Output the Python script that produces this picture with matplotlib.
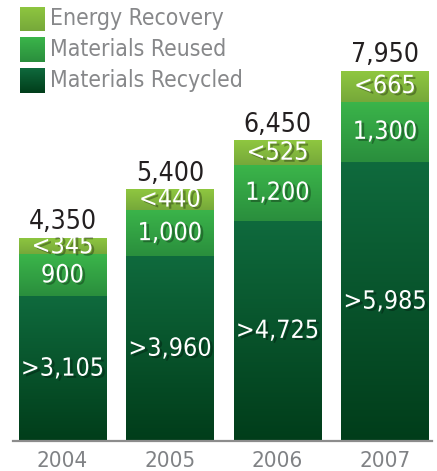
import numpy as np
import matplotlib
matplotlib.use("Agg")
from matplotlib import pyplot as plt
from matplotlib import patheffects as pe
from matplotlib.colors import LinearSegmentedColormap

years = ["2004", "2005", "2006", "2007"]
recycled = [3105, 3960, 4725, 5985]
reused = [900, 1000, 1200, 1300]
energy = [345, 440, 525, 665]
totals = [4350, 5400, 6450, 7950]
recycled_labels = [">3,105", ">3,960", ">4,725", ">5,985"]
reused_labels = ["900", "1,000", "1,200", "1,300"]
energy_labels = ["<345", "<440", "<525", "<665"]
total_labels = ["4,350", "5,400", "6,450", "7,950"]

series = [
    ("Materials Recycled", recycled, recycled_labels, ("#0f6a3d", "#013d1a")),
    ("Materials Reused", reused, reused_labels, ("#3bb54a", "#2a8e3d")),
    ("Energy Recovery", energy, energy_labels, ("#8fc740", "#76a83a")),
]

plt.rcParams['font.family'] = ['DejaVu Sans']
plt.rcParams['font.stretch'] = 'condensed'

fig = plt.figure(figsize=(4.37, 4.71), dpi=100)
ax = fig.add_axes([0, 0, 1, 1])
ax.axis("off")

grad = np.linspace(0, 1, 256).reshape(-1, 1)
shadow = [pe.SimplePatchShadow(offset=(2, -1.5), shadow_rgbFace="black", alpha=0.3), pe.Normal()]

x = np.arange(len(years))
width = 0.81
bottom = np.zeros(len(years))
for name, vals, labels, (c_top, c_bot) in series:
    cmap = LinearSegmentedColormap.from_list(name, [c_bot, c_top])
    bars = ax.bar(x, vals, width, bottom=bottom, color=c_top, edgecolor="none")
    for b, v, lab, b0 in zip(bars, vals, labels, bottom):
        im = ax.imshow(grad, cmap=cmap, origin="lower", aspect="auto",
                       extent=[b.get_x(), b.get_x() + width, b0, b0 + v], zorder=2)
        im.set_clip_path(b)
        ax.text(b.get_x() + width / 2, b0 + v / 2, lab, ha="center", va="center",
                color="white", fontsize=18, zorder=4, path_effects=shadow)
    bottom = bottom + np.array(vals)

ax.set_xlim(-0.581, 3.484)
ax.set_ylim(-644, 9464)

for xi, t in zip(x, total_labels):
    ax.text(xi, totals[xi] + 60, t, ha="center", va="bottom", color="#231f20", fontsize=19)

for xi, yr in zip(x, years):
    ax.text(xi, -430, yr, ha="center", va="center", color="#808285", fontsize=16)

ax.axhline(0, xmin=13 / 437, xmax=432 / 437, color="#8c8c8c", lw=1.6, zorder=5)

# legend squares, top left
leg = [("Energy Recovery", ("#8fc740", "#76a83a"), 19),
       ("Materials Reused", ("#3bb54a", "#2a8e3d"), 49.5),
       ("Materials Recycled", ("#0f6a3d", "#013d1a"), 80)]
for name, (c_top, c_bot), yc in leg:
    cmap = LinearSegmentedColormap.from_list(name + "l", [c_bot, c_top])
    lax = fig.add_axes([20 / 437, 1 - (yc + 12.5) / 471, 25 / 437, 25 / 471])
    lax.imshow(grad, cmap=cmap, origin="lower", aspect="auto")
    lax.axis("off")
    fig.text(50 / 437, 1 - yc / 471, name, ha="left", va="center", color="#87888a", fontsize=16.5)

fig.savefig("out.png", dpi=100)
